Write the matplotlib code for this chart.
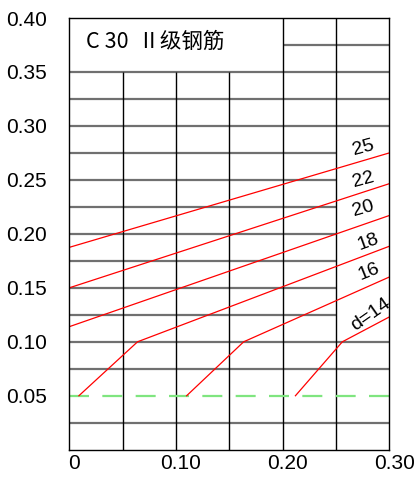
import numpy as np
import matplotlib
matplotlib.use('Agg')
import matplotlib.pyplot as plt
import matplotlib.transforms as mtransforms

plt.rcParams['font.family'] = ['Liberation Sans', 'DejaVu Sans']

# curves for bar diameter d (x, y points)
curve_names = ['25', '22', '20', '18', '16', 'd=14']
curve_x = [[0.0, 0.30],
           [0.0, 0.30],
           [0.0, 0.30],
           [0.009, 0.064, 0.30],
           [0.110, 0.1635, 0.30],
           [0.212, 0.256, 0.30]]
curve_y = [[0.1875, 0.275],
           [0.150, 0.2465],
           [0.114, 0.217],
           [0.05, 0.10, 0.1885],
           [0.05, 0.10, 0.160],
           [0.05, 0.10, 0.123]]

# where the labels sit and how much they lean
label_x = [0.276, 0.276, 0.276, 0.280, 0.281, 0.283]
label_y = [0.280, 0.250, 0.223, 0.192, 0.165, 0.125]
label_rot = [15, 15, 16, 20, 22, 35]

# table grid
h_full = [0.025, 0.075, 0.10, 0.30, 0.325, 0.35]
h_short = [0.125, 0.15, 0.175, 0.20, 0.225, 0.25, 0.275]
v_low = [0.05, 0.10, 0.15]
v_tall = [0.20, 0.25]

xticks = [0, 0.10, 0.20, 0.30]
xticklabels = ['0', '0.10', '0.20', '0.30']
yticks = [0, 0.05, 0.10, 0.15, 0.20, 0.25, 0.30, 0.35, 0.40]
yticklabels = ['', '0.05', '0.10', '0.15', '0.20', '0.25', '0.30', '0.35', '0.40']

fig = plt.figure(figsize=(4.16, 4.78), dpi=100)
ax = fig.add_axes([0.1666, 0.0592, 0.7692, 0.9031])
ax.set_xlim(0, 0.30)
ax.set_ylim(0, 0.40)

grey = '#707070'
ax.hlines(h_full, 0, 0.30, colors=grey, lw=1.6)
ax.hlines(h_short, 0, 0.25, colors=grey, lw=1.6)
ax.hlines([0.375], 0.20, 0.30, colors=grey, lw=1.6)
ax.vlines(v_low, 0, 0.35, colors='black', lw=1.0)
ax.vlines(v_tall, 0, 0.40, colors='black', lw=1.0)

# minimum ratio line
ax.axhline(0.05, color='#7fe57f', lw=1.6, dashes=(9, 6))

for xs, ys in zip(curve_x, curve_y):
    ax.plot(xs, ys, color='red', lw=0.9)

for name, lx, ly, r in zip(curve_names, label_x, label_y, label_rot):
    ax.text(lx, ly, name, fontsize=14, rotation=r, ha='center', va='center',
            rotation_mode='anchor')

ax.text(0.016, 0.3775, 'C 30  Ⅱ级钢筋', fontsize=15.5, va='center', ha='left',
        family=['Noto Sans CJK SC', 'DejaVu Sans'])

for sp in ax.spines.values():
    sp.set_color('black')
    sp.set_linewidth(1.0)

ax.set_xticks(xticks)
ax.set_xticklabels(xticklabels)
ax.set_yticks(yticks)
ax.set_yticklabels(yticklabels)
ax.tick_params(length=0, labelsize=15)
ax.tick_params(axis='y', pad=16)
ax.tick_params(axis='x', pad=3)

off = mtransforms.ScaledTranslation(5 / 100, 0, fig.dpi_scale_trans)
for lab in ax.get_xticklabels():
    lab.set_transform(lab.get_transform() + off)

fig.savefig('out.png', dpi=100)
